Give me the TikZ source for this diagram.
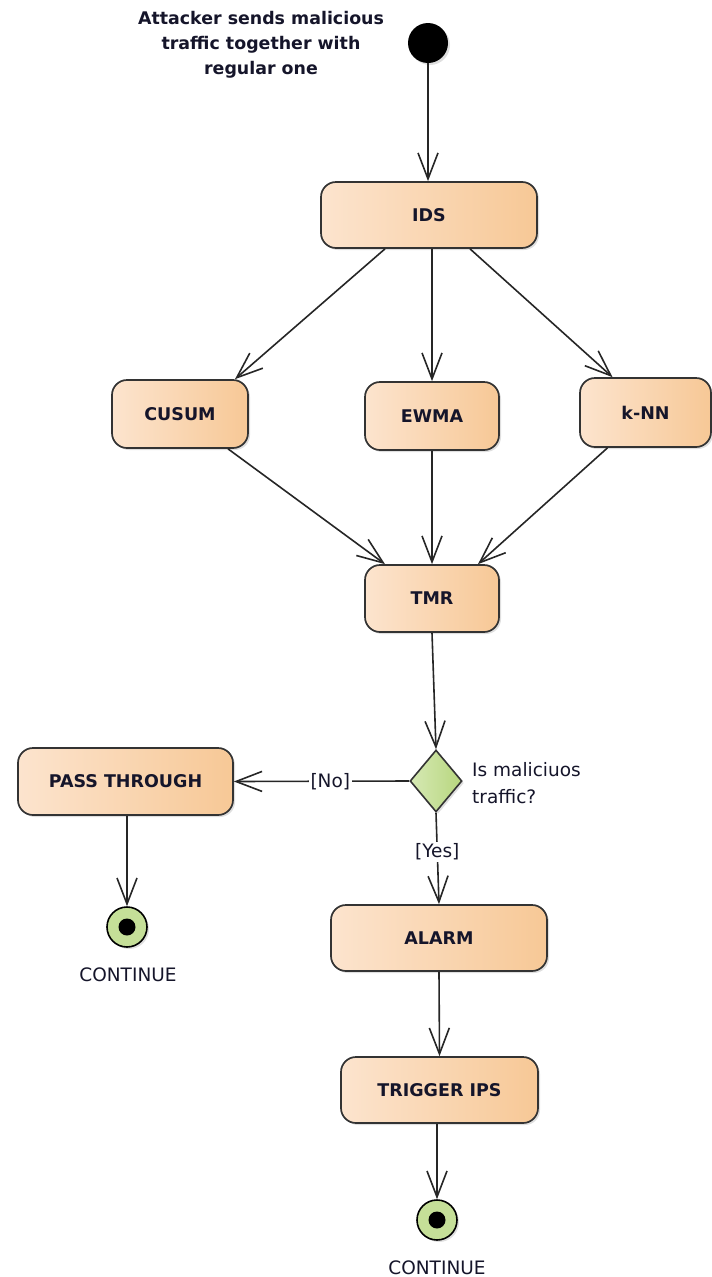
\documentclass[tikz,border=0pt]{standalone}
\usepackage{fontspec}
\setmainfont{DejaVu Sans}
\usetikzlibrary{arrows.meta,shapes.geometric,shadows,calc}
\definecolor{boxL}{HTML}{FCE4CE}
\definecolor{boxR}{HTML}{F7C896}
\definecolor{boxB}{HTML}{333333}
\definecolor{grnL}{HTML}{D6E9B4}
\definecolor{grnR}{HTML}{B7D67E}
\definecolor{grnF}{HTML}{C5DF98}
\definecolor{txt}{HTML}{15152A}
\tikzset{
  act/.style={draw=boxB, line width=1.7pt, rounded corners=15pt, left color=boxL, right color=boxR,
    drop shadow={shadow xshift=2pt, shadow yshift=-2pt, opacity=0.25},
    font=\fontsize{17.5}{21}\selectfont\bfseries, text=txt, inner sep=0pt},
  flow/.style={draw=black!85, line width=1.6pt, -{Straight Barb[length=26pt,width=20pt,line width=1.6pt]}},
  lbl/.style={font=\fontsize{18.5}{27}\selectfont, text=txt, inner sep=2pt},
  endc/.style={circle, draw=black, line width=1.6pt, fill=grnF, minimum size=40pt, inner sep=0pt,
    drop shadow={shadow xshift=2pt, shadow yshift=-2pt, opacity=0.25}},
  dot/.style={circle, fill=black, minimum size=17pt, inner sep=0pt}
}
\begin{document}
\begin{tikzpicture}[x=1pt,y=-1pt]
\useasboundingbox (0,0) rectangle (712,1277);

\node[font=\fontsize{17.4}{25}\selectfont\bfseries, text=txt, align=center] (title) at (261,45)
  {Attacker sends malicious\\traffic together with\\regular one};
\node[circle, fill=black, minimum size=40pt, inner sep=0pt,
  drop shadow={shadow xshift=2pt, shadow yshift=-2pt, opacity=0.25}] (start) at (428,43) {};

\node[act, minimum width=216pt, minimum height=66pt] (ids) at (429,215) {IDS};
\node[act, minimum width=136pt, minimum height=68pt] (cusum) at (180,414) {CUSUM};
\node[act, minimum width=134pt, minimum height=68pt] (ewma) at (432,416) {EWMA};
\node[act, minimum width=131pt, minimum height=69pt] (knn) at (645.5,412.5) {k-NN};
\node[act, minimum width=134pt, minimum height=67pt] (tmr) at (432,598.5) {TMR};
\node[diamond, draw=boxB, line width=1.6pt, left color=grnL, right color=grnR,
  minimum width=52pt, minimum height=62pt, inner sep=0pt,
  drop shadow={shadow xshift=2pt, shadow yshift=-2pt, opacity=0.25}] (dec) at (436,781) {};
\node[lbl, align=left, anchor=west] (q) at (470,783) {Is maliciuos\\traffic?};
\node[act, minimum width=215pt, minimum height=67pt] (pass) at (125.5,781.5) {PASS THROUGH};
\node[act, minimum width=216pt, minimum height=66pt] (alarm) at (439,938) {ALARM};
\node[act, minimum width=197pt, minimum height=66pt] (trig) at (439.5,1090) {TRIGGER IPS};

\node[endc] (end1) at (127,927) {};
\node[dot] (end1d) at (end1) {};
\node[lbl] (c1) at (128,975) {CONTINUE};
\node[endc] (end2) at (437,1220) {};
\node[dot] (end2d) at (end2) {};
\node[lbl] (c2) at (437,1268) {CONTINUE};

\draw[flow] (start) -- (start |- ids.north);
\draw[flow] ([xshift=-44pt]ids.south) -- ([xshift=55pt]cusum.north);
\draw[flow] (ids.south -| ewma.north) -- (ewma.north);
\draw[flow] ([xshift=41pt]ids.south) -- ([xshift=-33pt]knn.north);
\draw[flow] ([xshift=48pt]cusum.south) -- ([xshift=-47pt]tmr.north);
\draw[flow] (ewma.south) -- (tmr.north);
\draw[flow] ([xshift=-38pt]knn.south) -- ([xshift=46pt]tmr.north);
\draw[flow] (tmr.south) -- (dec.north);
\draw[flow] (dec.west) -- node[lbl, fill=white, pos=0.45] (no) {[No]} (pass.east);
\draw[flow] (dec.south) -- node[lbl, fill=white, pos=0.43] (yes) {[Yes]} (alarm.north);
\draw[flow] (pass.south -| end1) -- (end1.north);
\draw[flow] (alarm.south) -- (trig.north);
\draw[flow] (trig.south -| end2) -- (end2.north);
\end{tikzpicture}
\end{document}
